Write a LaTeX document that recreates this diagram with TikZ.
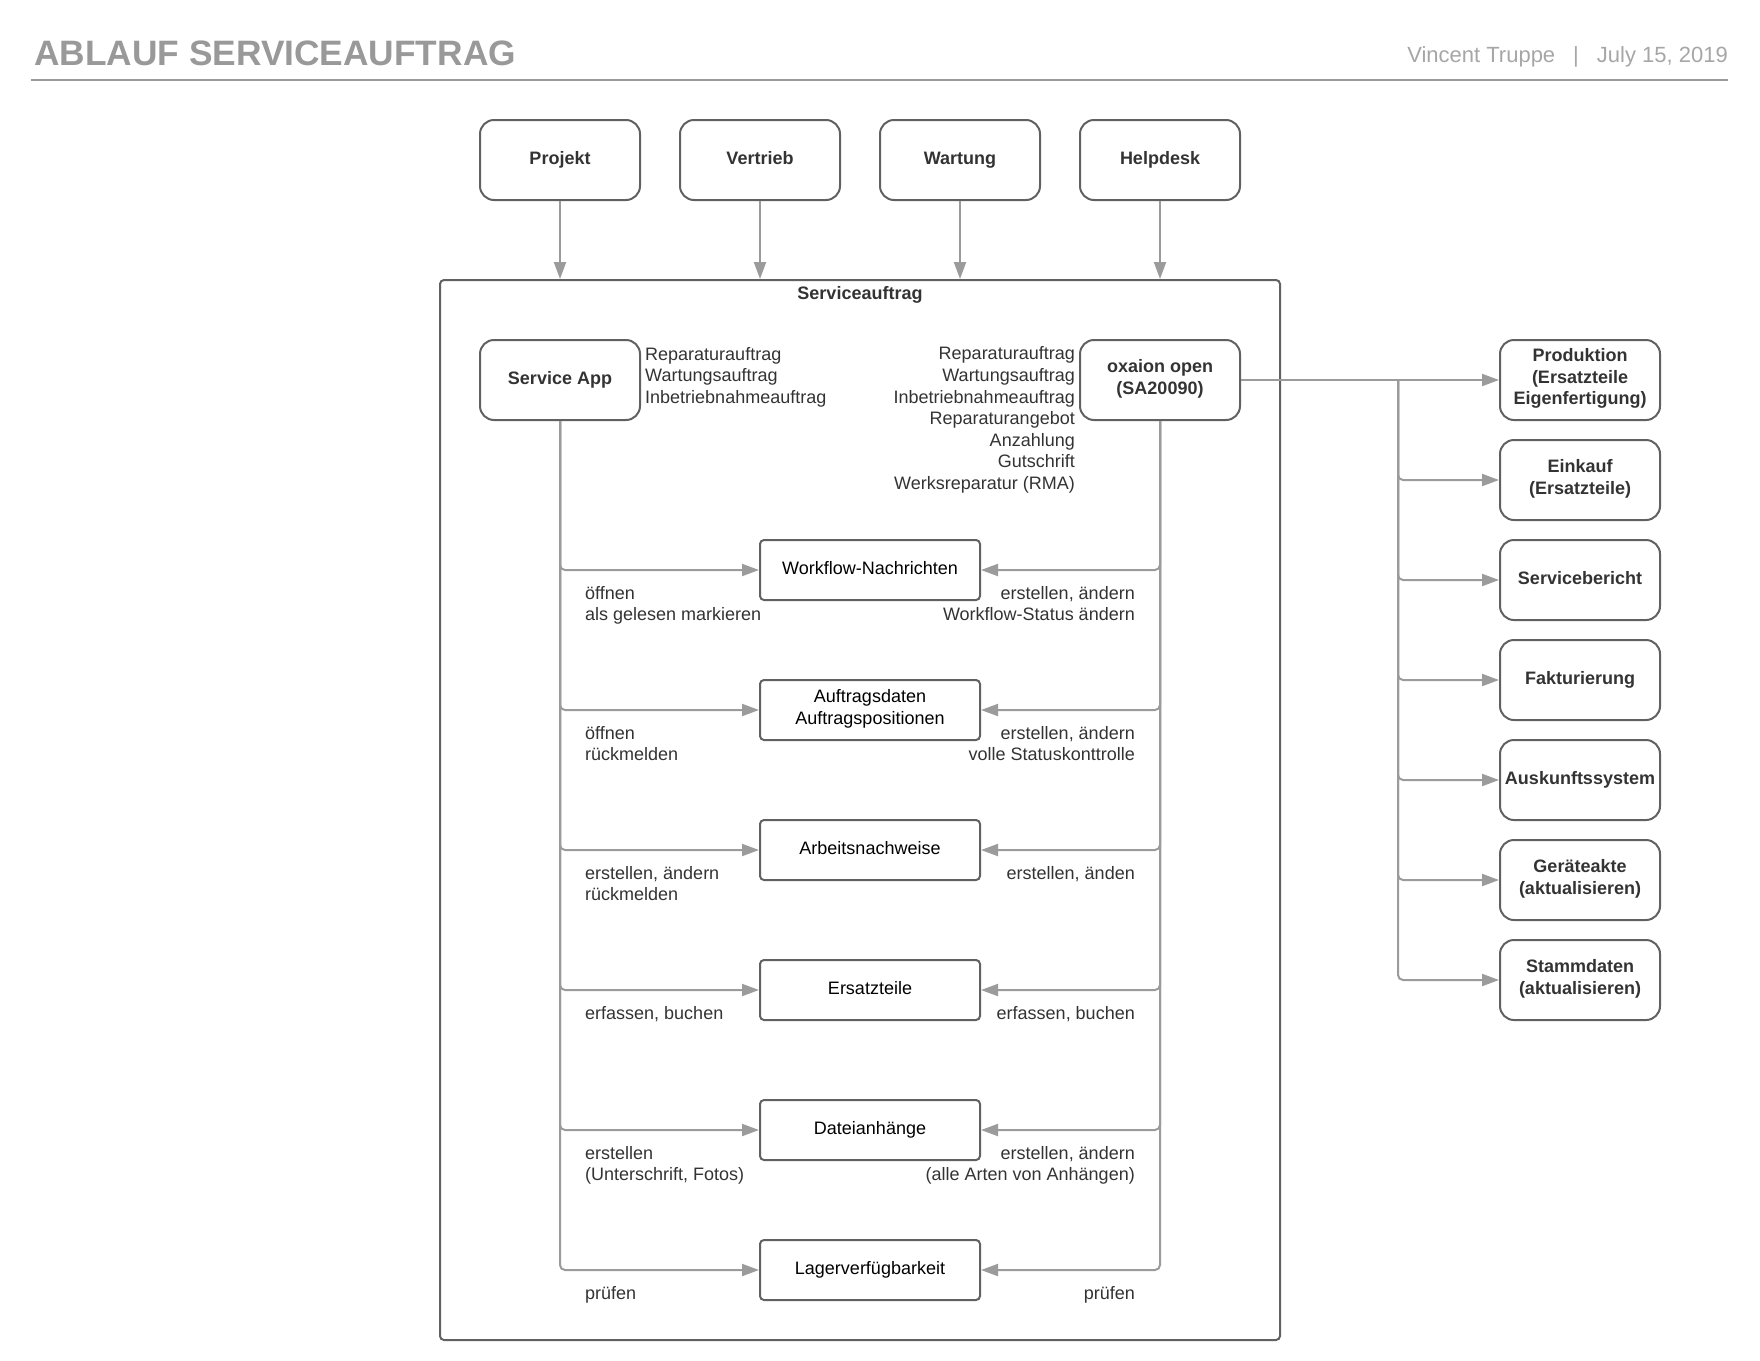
\documentclass[tikz,border=0pt]{standalone}
\usepackage{fontspec}
\setmainfont{Liberation Sans}
\usetikzlibrary{arrows.meta}

\definecolor{titlegray}{HTML}{999999}
\definecolor{authorgray}{HTML}{A6A6A6}
\definecolor{boxgray}{HTML}{616161}
\definecolor{linegray}{HTML}{9B9B9B}
\definecolor{txtgray}{HTML}{333333}

\newcommand{\boxfont}{\fontsize{18}{21.6}\selectfont}

\tikzset{
  roundbox/.style={draw=boxgray, line width=2pt, rounded corners=14pt,
    minimum width=160pt, minimum height=80pt, align=center, inner sep=2pt,
    font=\bfseries\boxfont, text=txtgray,
    execute at begin node=\strut, execute at end node=\strut},
  databox/.style={draw=boxgray, line width=2pt, rounded corners=4pt,
    minimum width=220pt, minimum height=60pt, align=center,
    font=\boxfont, text=black,
    execute at begin node=\strut, execute at end node=\strut},
  conn/.style={draw=linegray, line width=2pt, rounded corners=5pt,
    -{Triangle[length=17pt,width=12pt]}},
  lbl/.style={font=\boxfont, text=txtgray, inner sep=0pt},
}

\begin{document}
\begin{tikzpicture}[x=1pt, y=-1pt]
    \useasboundingbox (0,0) rectangle (1760,1360);

    % Header
    \node[anchor=base west, inner sep=0pt, text=titlegray,
      font=\bfseries\fontsize{35.3}{42}\selectfont] (title) at (34,65) {ABLAUF SERVICEAUFTRAG};
    \node[anchor=base east, inner sep=0pt, text=authorgray,
      font=\fontsize{22}{26}\selectfont] (author) at (1728,62) {Vincent Truppe\hspace{18pt}|\hspace{18pt}July 15, 2019};
    \draw[titlegray, line width=2pt] (31,80) -- (1728,80);

    % Sources
    \node[roundbox] (projekt) at (560,160) {Projekt};
    \node[roundbox] (vertrieb) at (760,160) {Vertrieb};
    \node[roundbox] (wartung) at (960,160) {Wartung};
    \node[roundbox] (helpdesk) at (1160,160) {Helpdesk};

    % Serviceauftrag frame
    \node[draw=boxgray, line width=2pt, rounded corners=4pt,
      minimum width=840pt, minimum height=1060pt] (sauftrag) at (860,810) {};
    \node[lbl, font=\bfseries\boxfont] (sauftraglbl) at (860,295) {Serviceauftrag};

    \draw[conn] (projekt) -- (projekt |- sauftrag.north);
    \draw[conn] (vertrieb) -- (vertrieb |- sauftrag.north);
    \draw[conn] (wartung) -- (wartung |- sauftrag.north);
    \draw[conn] (helpdesk) -- (helpdesk |- sauftrag.north);

    % Systems
    \node[roundbox] (sapp) at (560,380) {Service App};
    \node[roundbox] (oxaion) at (1160,380) {oxaion open\\(SA20090)};
    \node[lbl, align=left, anchor=west] (sapptypes) at (645,377)
      {Reparaturauftrag\\Wartungsauftrag\\Inbetriebnahmeauftrag};
    \node[lbl, align=right, anchor=east] (oxtypes) at (1075,420)
      {Reparaturauftrag\\Wartungsauftrag\\Inbetriebnahmeauftrag\\Reparaturangebot\\Anzahlung\\Gutschrift\\Werksreparatur (RMA)};

    % Data objects
    \node[databox] (wfn) at (870,570) {Workflow-Nachrichten};
    \node[databox] (adaten) at (870,710) {Auftragsdaten\\Auftragspositionen};
    \node[databox] (anachw) at (870,850) {Arbeitsnachweise};
    \node[databox] (eteile) at (870,990) {Ersatzteile};
    \node[databox] (danh) at (870,1130) {Dateianhänge};
    \node[databox] (lager) at (870,1270) {Lagerverfügbarkeit};

    % Service App side
    \draw[conn] (sapp.south) |- (wfn.west);
    \draw[conn] (sapp.south) |- (adaten.west);
    \draw[conn] (sapp.south) |- (anachw.west);
    \draw[conn] (sapp.south) |- (eteile.west);
    \draw[conn] (sapp.south) |- (danh.west);
    \draw[conn] (sapp.south) |- (lager.west);

    % oxaion side
    \draw[conn] (oxaion.south) |- (wfn.east);
    \draw[conn] (oxaion.south) |- (adaten.east);
    \draw[conn] (oxaion.south) |- (anachw.east);
    \draw[conn] (oxaion.south) |- (eteile.east);
    \draw[conn] (oxaion.south) |- (danh.east);
    \draw[conn] (oxaion.south) |- (lager.east);

    % Labels
    \node[lbl, align=left, anchor=north west] (wfnl) at (585,586) {öffnen\\als gelesen markieren};
    \node[lbl, align=right, anchor=north east] (wfnr) at (1135,586) {erstellen, ändern\\Workflow-Status ändern};
    \node[lbl, align=left, anchor=north west] (adatenl) at (585,726) {öffnen\\rückmelden};
    \node[lbl, align=right, anchor=north east] (adatenr) at (1135,726) {erstellen, ändern\\volle Statuskonttrolle};
    \node[lbl, align=left, anchor=north west] (anachwl) at (585,866) {erstellen, ändern\\rückmelden};
    \node[lbl, align=right, anchor=north east] (anachwr) at (1135,866) {erstellen, änden};
    \node[lbl, align=left, anchor=north west] (eteilel) at (585,1006) {erfassen, buchen};
    \node[lbl, align=right, anchor=north east] (eteiler) at (1135,1006) {erfassen, buchen};
    \node[lbl, align=left, anchor=north west] (danhl) at (585,1146) {erstellen\\(Unterschrift, Fotos)};
    \node[lbl, align=right, anchor=north east] (danhr) at (1135,1146) {erstellen, ändern\\(alle Arten von Anhängen)};
    \node[lbl, align=left, anchor=north west] (lagerl) at (585,1286) {prüfen};
    \node[lbl, align=right, anchor=north east] (lagerr) at (1135,1286) {prüfen};

    % Downstream
    \node[roundbox] (prod) at (1580,380) {Produktion\\(Ersatzteile\\Eigenfertigung)};
    \node[roundbox] (einkauf) at (1580,480) {Einkauf\\(Ersatzteile)};
    \node[roundbox] (sbericht) at (1580,580) {Servicebericht};
    \node[roundbox] (faktur) at (1580,680) {Fakturierung};
    \node[roundbox] (auskunft) at (1580,780) {Auskunftssystem};
    \node[roundbox] (geraete) at (1580,880) {Geräteakte\\(aktualisieren)};
    \node[roundbox] (stamm) at (1580,980) {Stammdaten\\(aktualisieren)};

    \coordinate (split) at (1398,380);
    \draw[conn] (oxaion) -- (prod);
    \draw[conn] (split) |- (einkauf.west);
    \draw[conn] (split) |- (sbericht.west);
    \draw[conn] (split) |- (faktur.west);
    \draw[conn] (split) |- (auskunft.west);
    \draw[conn] (split) |- (geraete.west);
    \draw[conn] (split) |- (stamm.west);
\end{tikzpicture}
\end{document}
